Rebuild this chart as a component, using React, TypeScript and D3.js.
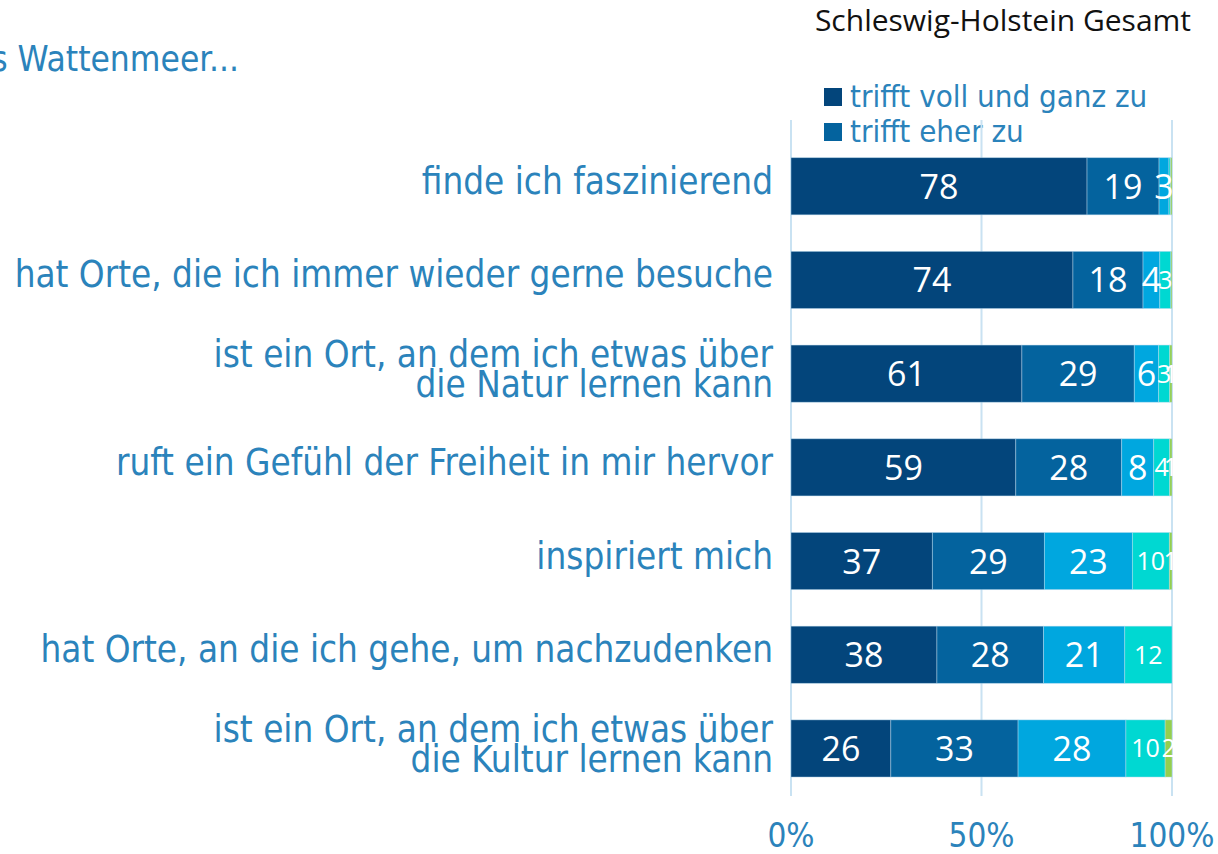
import React from "react";
import * as d3 from "d3";

const categories = [
  ["finde ich faszinierend"],
  ["hat Orte, die ich immer wieder gerne besuche"],
  ["ist ein Ort, an dem ich etwas über", "die Natur lernen kann"],
  ["ruft ein Gefühl der Freiheit in mir hervor"],
  ["inspiriert mich"],
  ["hat Orte, an die ich gehe, um nachzudenken"],
  ["ist ein Ort, an dem ich etwas über", "die Kultur lernen kann"],
];

const trifftVoll = [77.7, 74.0, 60.6, 59.0, 37.1, 38.3, 26.2];
const trifftEher = [18.9, 18.4, 29.5, 27.8, 29.4, 28.0, 33.4];
const teilsTeils = [2.6, 4.4, 6.4, 8.4, 23.1, 21.3, 28.3];
const eherNicht = [0.4, 2.9, 2.9, 4.2, 9.7, 12.4, 10.3];
const garNicht = [0.4, 0.3, 0.6, 0.6, 0.7, 0.0, 1.8];

const seriesNames = ["trifft voll und ganz zu", "trifft eher zu", "teils/teils", "trifft eher nicht zu", "trifft gar nicht zu"];
const seriesColors = ["#03457b", "#04639e", "#00a7df", "#00d8d2", "#94cf4f"];
const legendShown = 2;

const ticks = [0, 50, 100];
const tickLabels = ["0%", "50%", "100%"];

const title = "Schleswig-Holstein Gesamt";
const leftTitle = "Das Wattenmeer...";

const W = 1218;
const H = 854;
const textBlue = "#2b83bb";
const catFont = "'DejaVu Sans Condensed', 'DejaVu Sans', sans-serif";
const numFont = "'Open Sans', sans-serif";

export default function App() {
  const x = d3.scaleLinear().domain([0, 100]).range([791, 1172]);
  const y = d3
    .scaleBand<number>()
    .domain(d3.range(categories.length))
    .range([139.4, 795.3])
    .paddingInner(0.39)
    .paddingOuter(0.195);

  const table = categories.map((c, i) => ({
    i,
    s0: trifftVoll[i],
    s1: trifftEher[i],
    s2: teilsTeils[i],
    s3: eherNicht[i],
    s4: garNicht[i],
  }));
  const keys = ["s0", "s1", "s2", "s3", "s4"];
  const stacked = d3.stack<any>().keys(keys)(table);

  const bw = y.bandwidth();

  return (
    <div style={{ position: "fixed", left: 0, top: 0, width: W, height: H, background: "#fff" }}>
      <svg width={W} height={H} style={{ display: "block", overflow: "hidden" }}>
        <defs>
          <clipPath id="plotclip">
            <rect x={x(0) - 2} y={100} width={x(100) - x(0) + 3} height={720} />
          </clipPath>
        </defs>

        {/* left title, partially cut as in the reference */}
        <text x={239} y={71} textAnchor="end" fontFamily={catFont} fontSize={35} fill={textBlue}>
          {leftTitle}
        </text>

        {/* chart title */}
        <text x={1003} y={31} textAnchor="middle" fontFamily={numFont} fontSize={30} fill="#111">
          {title}
        </text>

        {/* legend */}
        {seriesNames.slice(0, legendShown).map((n, k) => (
          <g key={n} transform={`translate(824, ${88 + k * 35})`}>
            <rect x={0} y={0} width={18} height={18} fill={seriesColors[k]} />
            <text x={26} y={18.5} fontFamily={catFont} fontSize={31} fill={textBlue}>
              {n}
            </text>
          </g>
        ))}

        {/* gridlines */}
        {ticks.map((t) => (
          <line key={t} x1={x(t)} x2={x(t)} y1={120} y2={796} stroke="#c9e2f2" strokeWidth={2} />
        ))}

        {/* bars */}
        {stacked.map((layer, k) => (
          <g key={layer.key}>
            {layer.map((d, i) => (
              <rect
                key={i}
                x={x(d[0])}
                y={y(i)}
                width={Math.max(0, x(d[1]) - x(d[0]))}
                height={bw}
                fill={seriesColors[k]}
                stroke="rgba(190,220,240,0.55)"
                strokeWidth={0.8}
              />
            ))}
          </g>
        ))}

        {/* value labels */}
        <g clipPath="url(#plotclip)">
          {stacked.map((layer, k) =>
            layer.map((d, i) => {
              const v = d[1] - d[0];
              const lbl = Math.round(v);
              if (lbl < 1) return null;
              const big = k < 3;
              return (
                <text
                  key={`${k}-${i}`}
                  x={x((d[0] + d[1]) / 2)}
                  y={(y(i) as number) + bw / 2 + (big ? 12.5 : 9)}
                  textAnchor="middle"
                  fontFamily={numFont}
                  fontSize={big ? 34 : 25}
                  fill="#fff"
                >
                  {lbl}
                </text>
              );
            })
          )}
        </g>

        {/* category labels */}
        {categories.map((lines, i) => {
          const cy = (y(i) as number) + bw / 2;
          if (lines.length === 1) {
            return (
              <text key={i} x={773} y={cy + 7.5} textAnchor="end" fontFamily={catFont} fontSize={36.5} fill={textBlue}>
                {lines[0]}
              </text>
            );
          }
          return (
            <text key={i} textAnchor="end" fontFamily={catFont} fontSize={36.5} fill={textBlue}>
              <tspan x={773} y={cy - 6.5}>{lines[0]}</tspan>
              <tspan x={773} y={cy + 23.5}>{lines[1]}</tspan>
            </text>
          );
        })}

        {/* x tick labels */}
        {ticks.map((t, k) => (
          <text key={t} x={x(t)} y={847} textAnchor="middle" fontFamily={catFont} fontSize={33} fill={textBlue}>
            {tickLabels[k]}
          </text>
        ))}
      </svg>
    </div>
  );
}
